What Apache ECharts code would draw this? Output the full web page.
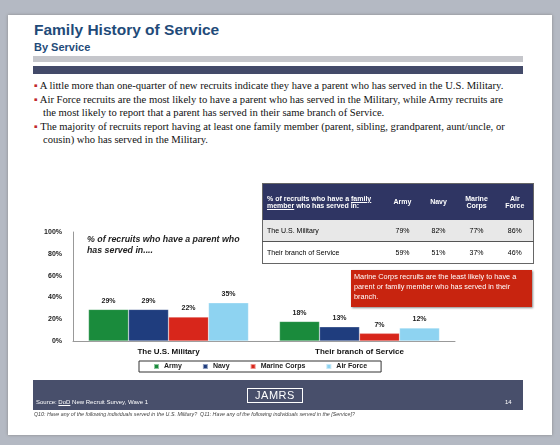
<!DOCTYPE html>
<html><head><meta charset="utf-8">
<script src="https://cdn.jsdelivr.net/npm/echarts@6/dist/echarts.min.js"></script>
<style>
body{margin:0;width:560px;height:445px;background:#b4b9c3;font-family:"Liberation Sans",Arial,sans-serif;position:relative;overflow:hidden}
.abs{position:absolute}
#slide{left:8px;top:15px;width:544px;height:420px;background:#fff;box-shadow:0 0 3px #888}
#chart{left:0;top:0;width:560px;height:445px}
table{border-collapse:collapse;font-size:7px;table-layout:fixed}
</style></head><body>
<div id="slide" class="abs"></div>
<div class="abs" style="left:34px;top:21px;font-size:15.5px;font-weight:bold;color:#1f4b79">Family History of Service</div>
<div class="abs" style="left:34px;top:41px;font-size:11px;font-weight:bold;color:#1f4b79">By Service</div>
<div class="abs" style="left:33px;top:56px;width:490px;height:6px;background:#c5c6cb"></div>
<div class="abs" style="left:33px;top:66px;width:490px;height:8px;background:#434a69"></div>
<div class="abs" style="left:34px;top:79px;width:472px;font-family:'Liberation Serif',serif;font-size:10.6px;line-height:13.6px;color:#111">
<div style="padding-left:9px;text-indent:-9px"><span style="color:#c0282d">▪</span> A little more than one-quarter of new recruits indicate they have a parent who has served in the U.S. Military.</div>
<div style="padding-left:9px;text-indent:-9px"><span style="color:#c0282d">▪</span> Air Force recruits are the most likely to have a parent who has served in the Military, while Army recruits are the most likely to report that a parent has served in their same branch of Service.</div>
<div style="padding-left:9px;text-indent:-9px"><span style="color:#c0282d">▪</span> The majority of recruits report having at least one family member (parent, sibling, grandparent, aunt/uncle, or cousin) who has served in the Military.</div>
</div>
<div id="chart" class="abs"></div>
<table class="abs" style="left:262px;top:183px;width:271px;border:1px solid #666">
<colgroup><col style="width:122px"><col style="width:36px"><col style="width:36px"><col style="width:40px"><col style="width:37px"></colgroup>
<tr style="background:#2f3563;color:#fff;font-weight:bold;height:36px"><td style="padding-left:4px">% of recruits who have a <u>family member</u> who has served in:</td><td align="center">Army</td><td align="center">Navy</td><td align="center">Marine<br>Corps</td><td align="center">Air<br>Force</td></tr>
<tr style="background:#e8e8e8;height:22px;border-bottom:1px solid #555"><td style="padding-left:4px">The U.S. Military</td><td align="center">79%</td><td align="center">82%</td><td align="center">77%</td><td align="center">86%</td></tr>
<tr style="height:22px"><td style="padding-left:4px">Their branch of Service</td><td align="center">59%</td><td align="center">51%</td><td align="center">37%</td><td align="center">46%</td></tr>
</table>
<div class="abs" style="left:351px;top:270px;width:175px;height:33px;padding:2px 3px;background:#c8240f;color:#fff;font-size:7.3px;line-height:10px;box-shadow:1px 1px 2px #888">Marine Corps recruits are the least likely to have a parent or family member who has served in their branch.</div>
<div class="abs" style="left:33px;top:380px;width:490px;height:30px;background:#484f6b"></div>
<div class="abs" style="left:247px;top:388px;width:54px;height:13px;border:1px solid #fff;color:#fff;font-size:11px;text-align:center;line-height:13px;letter-spacing:0.5px">JAMRS</div>
<div class="abs" style="left:36px;top:399px;color:#fff;font-size:6px">Source: <u>DoD</u> New Recruit Survey, Wave 1</div>
<div class="abs" style="left:505px;top:399px;color:#fff;font-size:6px">14</div>
<div class="abs" style="left:34px;top:411px;color:#444;font-size:5.3px;font-style:italic">Q10: Have any of the following individuals served in the U.S. Military?&nbsp; Q11: Have any of the following individuals served in the [Service]?</div>
<script>
const categories=['The U.S. Military','Their branch of Service'];
const seriesNames=['Army','Navy','Marine Corps','Air Force'];
const army=[29,18];
const navy=[29,13];
const marine=[22,7];
const airforce=[35,12];
const yTicks=[0,20,40,60,80,100];
const colors=['#1a8b3c','#1f3d7e','#d8261b','#8ed3f1'];
const vals=[army,navy,marine,airforce];
const ch=echarts.init(document.getElementById('chart'));
ch.setOption({
 animation:false,
 textStyle:{fontFamily:'Liberation Sans'},
 title:{text:'% of recruits who have a {u|parent} who\nhas served in....',left:82,top:229,textStyle:{fontSize:8.8,fontStyle:'italic',fontWeight:'bold',color:'#222',lineHeight:11,rich:{u:{fontSize:8.8,fontStyle:'italic',fontWeight:'bold',color:'#222',textDecoration:'underline'}}}},
 grid:{left:73,right:105,top:232,bottom:104},
 legend:{data:seriesNames,left:139,top:361,width:222,padding:[2,14],borderColor:'#333',borderWidth:1,itemWidth:5,itemHeight:5,itemGap:20,icon:'rect',textStyle:{fontSize:7,fontWeight:'bold',color:'#222'}},
 xAxis:{type:'category',data:categories,axisLine:{lineStyle:{color:'#999'}},axisTick:{show:false},axisLabel:{fontSize:8,fontWeight:'bold',color:'#111',margin:7}},
 yAxis:{type:'value',min:0,max:100,interval:20,splitLine:{show:false},axisLine:{show:true,lineStyle:{color:'#999'}},axisLabel:{formatter:v=>v+'%',fontSize:7,fontWeight:'bold',color:'#222',margin:11}},
 series:seriesNames.map((n,i)=>({name:n,type:'bar',data:vals[i],barWidth:40,barGap:'0%',itemStyle:{color:colors[i],borderColor:'rgba(255,255,255,0.5)',borderWidth:0.5},
  label:{show:true,position:'top',formatter:'{c}%',fontSize:7,fontWeight:'bold',color:'#222',distance:5}}))
});
</script>
</body></html>
